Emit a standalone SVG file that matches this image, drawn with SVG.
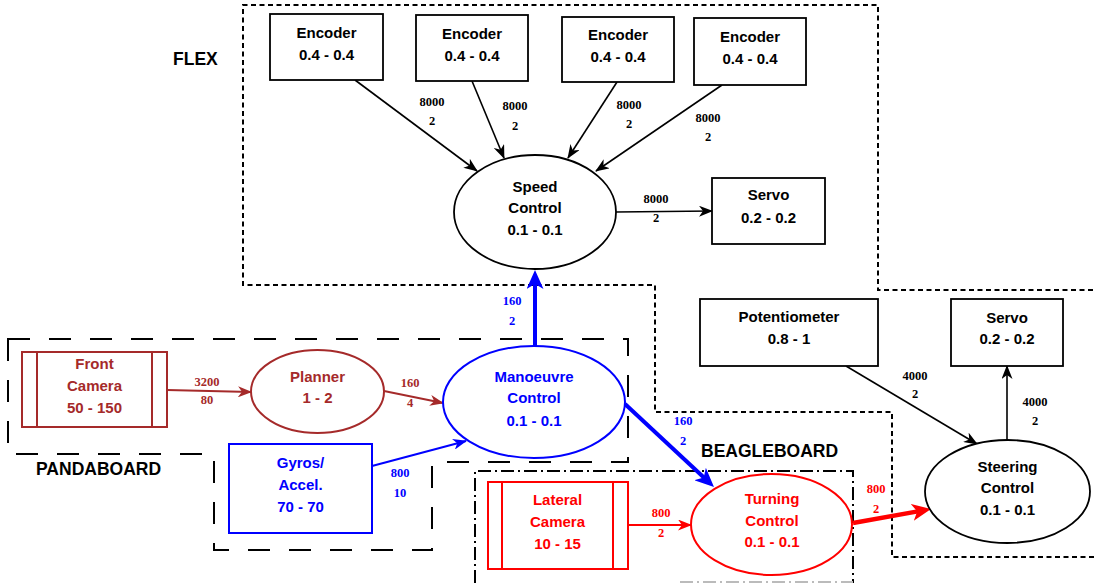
<svg xmlns="http://www.w3.org/2000/svg" width="1094" height="583" viewBox="0 0 1094 583">
  <style>
    .nt { font-family: "Liberation Sans", Arial, sans-serif; font-weight: bold; font-size: 15px; text-anchor: middle; }
    .el { font-family: "Liberation Serif", "Times New Roman", serif; font-weight: bold; font-size: 12.5px; text-anchor: middle; }
    .rl { font-family: "Liberation Sans", Arial, sans-serif; font-weight: bold; font-size: 17.5px; fill: #000; }
    .box { fill: #fff; stroke: #000; stroke-width: 1.8; }
    .zone { fill: none; stroke: #000; stroke-width: 2; }
    .k { fill: #000; }
    .b { fill: #0000ff; }
    .r { fill: #ff0000; }
    .br { fill: #a52a2a; }
  </style>
  <defs>
    <marker id="ahK" markerUnits="userSpaceOnUse" markerWidth="14" markerHeight="11" viewBox="0 0 14 11" refX="13" refY="5.5" orient="auto">
      <path d="M0,0 L14,5.5 L0,11 L4,5.5 z" fill="#000"/>
    </marker>
    <marker id="ahB" markerUnits="userSpaceOnUse" markerWidth="14" markerHeight="11" viewBox="0 0 14 11" refX="13" refY="5.5" orient="auto">
      <path d="M0,0 L14,5.5 L0,11 L4,5.5 z" fill="#0000ff"/>
    </marker>
    <marker id="ahR" markerUnits="userSpaceOnUse" markerWidth="14" markerHeight="11" viewBox="0 0 14 11" refX="13" refY="5.5" orient="auto">
      <path d="M0,0 L14,5.5 L0,11 L4,5.5 z" fill="#ff0000"/>
    </marker>
    <marker id="ahBr" markerUnits="userSpaceOnUse" markerWidth="14" markerHeight="11" viewBox="0 0 14 11" refX="13" refY="5.5" orient="auto">
      <path d="M0,0 L14,5.5 L0,11 L4,5.5 z" fill="#a52a2a"/>
    </marker>
    <!-- wide heads for the heavy links; the line stops 12px short of the tip -->
    <marker id="ahBw" markerUnits="userSpaceOnUse" markerWidth="19" markerHeight="17" viewBox="0 0 19 17" refX="7" refY="8.5" orient="auto">
      <path d="M0,0 L19,8.5 L0,17 L5,8.5 z" fill="#0000ff"/>
    </marker>
    <marker id="ahRw" markerUnits="userSpaceOnUse" markerWidth="19" markerHeight="17" viewBox="0 0 19 17" refX="7" refY="8.5" orient="auto">
      <path d="M0,0 L19,8.5 L0,17 L5,8.5 z" fill="#ff0000"/>
    </marker>
  </defs>

  <rect width="1094" height="583" fill="#fff"/>

  <!-- processor zones -->
  <g id="zones">
    <path id="zone-flex" class="zone" stroke-dasharray="5 3.5"
          d="M1094,557 H892 V412 H655 V285 H243 V5 H878 V290 H1094"/>
    <path id="zone-pandaboard" class="zone" stroke-dasharray="22 19"
          d="M8,339 H628 V462 H432 V550 H214 V454 H8 Z"/>
    <path id="zone-beagleboard" class="zone" stroke-dasharray="13 4 2 4"
          d="M475,583 V471 H853 V583"/>
    <path d="M680,582 H853" stroke="#bbb" stroke-width="2" stroke-dasharray="13 4 2 4" fill="none"/>
    <text class="rl" x="173" y="65">FLEX</text>
    <text class="rl" x="36" y="475">PANDABOARD</text>
    <text class="rl" x="701" y="457">BEAGLEBOARD</text>
  </g>

  <!-- connectors -->
  <g id="connectors" fill="none">
    <line x1="355" y1="80" x2="477" y2="171" stroke="#000" stroke-width="1.6" marker-end="url(#ahK)"/>
    <line x1="472" y1="81" x2="504" y2="158" stroke="#000" stroke-width="1.6" marker-end="url(#ahK)"/>
    <line x1="617" y1="82" x2="568" y2="158" stroke="#000" stroke-width="1.6" marker-end="url(#ahK)"/>
    <line x1="722" y1="85" x2="596" y2="171" stroke="#000" stroke-width="1.6" marker-end="url(#ahK)"/>
    <line x1="616" y1="212" x2="712" y2="211" stroke="#000" stroke-width="1.6" marker-end="url(#ahK)"/>
    <line x1="167" y1="390" x2="251" y2="392" stroke="#a52a2a" stroke-width="1.8" marker-end="url(#ahBr)"/>
    <line x1="384" y1="391" x2="443" y2="403" stroke="#a52a2a" stroke-width="1.8" marker-end="url(#ahBr)"/>
    <line x1="372" y1="466" x2="466" y2="441" stroke="#0000ff" stroke-width="2" marker-end="url(#ahB)"/>
    <line x1="535" y1="346" x2="535" y2="282" stroke="#0000ff" stroke-width="4" marker-end="url(#ahBw)"/>
    <line x1="625" y1="404" x2="705.2" y2="478.8" stroke="#0000ff" stroke-width="4" marker-end="url(#ahBw)"/>
    <line x1="628" y1="525" x2="691" y2="525" stroke="#ff0000" stroke-width="1.8" marker-end="url(#ahR)"/>
    <line x1="853" y1="523" x2="919.2" y2="511.1" stroke="#ff0000" stroke-width="4.5" marker-end="url(#ahRw)"/>
    <line x1="846" y1="366" x2="977" y2="444" stroke="#000" stroke-width="1.6" marker-end="url(#ahK)"/>
    <line x1="1007" y1="440" x2="1007" y2="366" stroke="#000" stroke-width="1.6" marker-end="url(#ahK)"/>

    <g class="el">
      <text class="k" x="432" y="106">8000</text><text class="k" x="432" y="125">2</text>
      <text class="k" x="515" y="110">8000</text><text class="k" x="515" y="130">2</text>
      <text class="k" x="629" y="109">8000</text><text class="k" x="629" y="128">2</text>
      <text class="k" x="708" y="122">8000</text><text class="k" x="708" y="141">2</text>
      <text class="k" x="656" y="203">8000</text><text class="k" x="656" y="222">2</text>
      <text class="br" x="207" y="386">3200</text><text class="br" x="207" y="404">80</text>
      <text class="br" x="410" y="387">160</text><text class="br" x="410" y="407">4</text>
      <text class="b" x="400" y="477">800</text><text class="b" x="400" y="497">10</text>
      <text class="b" x="512" y="305">160</text><text class="b" x="512" y="325">2</text>
      <text class="b" x="683" y="425">160</text><text class="b" x="683" y="445">2</text>
      <text class="r" x="661" y="517">800</text><text class="r" x="661" y="537">2</text>
      <text class="r" x="876" y="493">800</text><text class="r" x="876" y="513">2</text>
      <text class="k" x="915" y="380">4000</text><text class="k" x="915" y="398">2</text>
      <text class="k" x="1035" y="406">4000</text><text class="k" x="1035" y="425">2</text>
    </g>
  </g>

  <!-- FLEX nodes -->
  <g id="encoder-1">
    <rect class="box" x="270" y="14" width="113" height="66"/>
    <text class="nt k" x="326.5" y="38">Encoder</text>
    <text class="nt k" x="326.5" y="60">0.4 - 0.4</text>
  </g>
  <g id="encoder-2">
    <rect class="box" x="416" y="15" width="112" height="66"/>
    <text class="nt k" x="472" y="39">Encoder</text>
    <text class="nt k" x="472" y="61">0.4 - 0.4</text>
  </g>
  <g id="encoder-3">
    <rect class="box" x="562" y="17" width="112" height="65"/>
    <text class="nt k" x="618" y="40">Encoder</text>
    <text class="nt k" x="618" y="62">0.4 - 0.4</text>
  </g>
  <g id="encoder-4">
    <rect class="box" x="694" y="18" width="112" height="67"/>
    <text class="nt k" x="750" y="42">Encoder</text>
    <text class="nt k" x="750" y="64">0.4 - 0.4</text>
  </g>
  <g id="speed-control">
    <ellipse class="box" cx="535" cy="212" rx="81" ry="57"/>
    <text class="nt k" x="535" y="192">Speed</text>
    <text class="nt k" x="535" y="213">Control</text>
    <text class="nt k" x="535" y="235">0.1 - 0.1</text>
  </g>
  <g id="servo-speed">
    <rect class="box" x="712" y="178" width="113" height="66"/>
    <text class="nt k" x="768.5" y="200">Servo</text>
    <text class="nt k" x="768.5" y="223">0.2 - 0.2</text>
  </g>

  <!-- PANDABOARD nodes -->
  <g id="front-camera" fill="#fff" stroke="#a52a2a" stroke-width="2">
    <rect x="22" y="352" width="145" height="75"/>
    <line x1="37" y1="352" x2="37" y2="427"/>
    <line x1="152" y1="352" x2="152" y2="427"/>
    <g stroke="none">
      <text class="nt br" x="94.5" y="369">Front</text>
      <text class="nt br" x="94.5" y="391">Camera</text>
      <text class="nt br" x="94.5" y="413">50 - 150</text>
    </g>
  </g>
  <g id="planner">
    <ellipse cx="317.5" cy="391.5" rx="66.5" ry="41.5" fill="#fff" stroke="#a52a2a" stroke-width="2"/>
    <text class="nt br" x="317.5" y="382">Planner</text>
    <text class="nt br" x="317.5" y="403">1 - 2</text>
  </g>
  <g id="manoeuvre-control">
    <ellipse cx="534" cy="402" rx="91" ry="56" fill="#fff" stroke="#0000ff" stroke-width="2"/>
    <text class="nt b" x="534" y="382">Manoeuvre</text>
    <text class="nt b" x="534" y="403">Control</text>
    <text class="nt b" x="534" y="426">0.1 - 0.1</text>
  </g>
  <g id="gyros-accel">
    <rect x="229" y="444" width="143" height="89" fill="#fff" stroke="#0000ff" stroke-width="2"/>
    <text class="nt b" x="300.5" y="468">Gyros/</text>
    <text class="nt b" x="300.5" y="490">Accel.</text>
    <text class="nt b" x="300.5" y="512">70 - 70</text>
  </g>

  <!-- BEAGLEBOARD nodes -->
  <g id="lateral-camera" fill="#fff" stroke="#ff0000" stroke-width="2">
    <rect x="488" y="482" width="140" height="87"/>
    <line x1="502" y1="482" x2="502" y2="569"/>
    <line x1="613" y1="482" x2="613" y2="569"/>
    <g stroke="none">
      <text class="nt r" x="557.5" y="505">Lateral</text>
      <text class="nt r" x="557.5" y="527">Camera</text>
      <text class="nt r" x="557.5" y="549">10 - 15</text>
    </g>
  </g>
  <g id="turning-control">
    <ellipse cx="771.5" cy="524.5" rx="80.5" ry="50.5" fill="#fff" stroke="#ff0000" stroke-width="2"/>
    <text class="nt r" x="772" y="504">Turning</text>
    <text class="nt r" x="772" y="526">Control</text>
    <text class="nt r" x="772" y="547">0.1 - 0.1</text>
  </g>

  <!-- steering nodes -->
  <g id="potentiometer">
    <rect class="box" x="700" y="299" width="178" height="67"/>
    <text class="nt k" x="789" y="322">Potentiometer</text>
    <text class="nt k" x="789" y="344">0.8 - 1</text>
  </g>
  <g id="servo-steering">
    <rect class="box" x="951" y="299" width="112" height="67"/>
    <text class="nt k" x="1007" y="323">Servo</text>
    <text class="nt k" x="1007" y="344">0.2 - 0.2</text>
  </g>
  <g id="steering-control">
    <ellipse class="box" cx="1007.5" cy="491.5" rx="82.5" ry="51.5"/>
    <text class="nt k" x="1007.5" y="472">Steering</text>
    <text class="nt k" x="1007.5" y="493">Control</text>
    <text class="nt k" x="1007.5" y="515">0.1 - 0.1</text>
  </g>
</svg>
